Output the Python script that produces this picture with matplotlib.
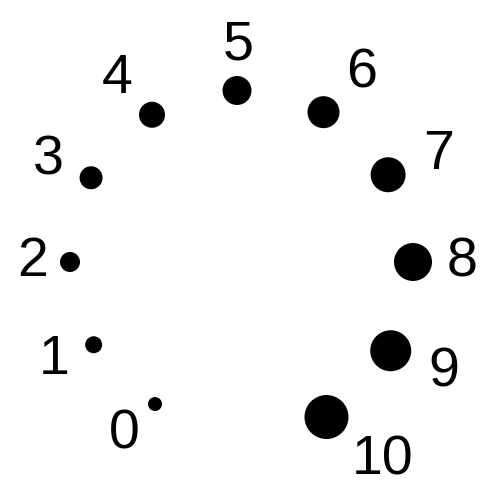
import numpy as np
import matplotlib
matplotlib.use("Agg")
import matplotlib.pyplot as plt
from matplotlib.textpath import TextPath
from matplotlib.font_manager import FontProperties

# data
labels = ["0", "1", "2", "3", "4", "5", "6", "7", "8", "9", "10"]
values = [0, 1, 2, 3, 4, 5, 6, 7, 8, 9, 10]

fig = plt.figure(figsize=(5, 5), dpi=100)
ax = fig.add_axes([0, 0, 1, 1])
ax.set_xlim(0, 500)
ax.set_ylim(0, 500)
ax.set_aspect("equal")
ax.axis("off")

cx, cy = 237, 238
inner = 157
vals = np.array(values, dtype=float)
n = len(vals)
theta = np.deg2rad(240 - 30 * np.arange(n))
diam = 14 + 3 * vals            # marker diameter in pixels
rad = diam / 2
ring = inner + rad
x = cx + ring * np.cos(theta)
y = cy + ring * np.sin(theta)
ax.scatter(x, y, s=(diam * 72 / 100) ** 2, color="black", linewidths=0)

fs = 40
fam = ["Liberation Sans", "DejaVu Sans"]
prop = FontProperties(family="Liberation Sans", size=fs)
for i, lab in enumerate(labels):
    t = theta[i]
    c, s = np.cos(t), np.sin(t)
    extra = 15 + 15.5 * abs(s)
    rl = ring[i] + rad[i] + extra
    lx, ly = cx + rl * c, cy + 5 + rl * s
    # ink extents in pixels
    tp = TextPath((0, 0), lab, size=fs * 100 / 72, prop=prop)
    v = tp.vertices
    xmin, xmax = v[:, 0].min(), v[:, 0].max()
    ymin, ymax = v[:, 1].min(), v[:, 1].max()
    if c > 0.01:
        tx = lx - xmin
    elif c < -0.01:
        tx = lx - xmax
    else:
        tx = lx - (xmin + xmax) / 2
    ty = ly - (ymin + ymax) / 2
    ax.text(tx, ty, lab, ha="left", va="baseline", fontsize=fs,
            family=fam, color="black")

fig.savefig("out.png", dpi=100, facecolor="white")
